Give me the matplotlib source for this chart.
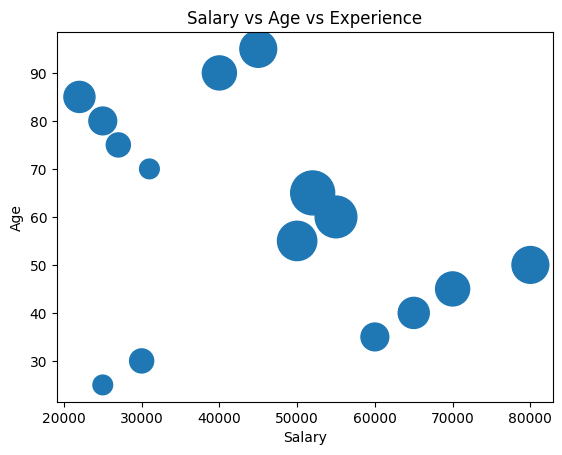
import matplotlib
matplotlib.use("Agg")
import matplotlib.pyplot as plt

# data
salary = [22000, 25000, 27000, 31000, 40000, 45000, 52000, 55000,
          50000, 80000, 70000, 65000, 60000, 30000, 25000]
age = [85, 80, 75, 70, 90, 95, 65, 60, 55, 50, 45, 40, 35, 30, 25]
experience = [5, 4, 3, 2, 6, 7, 10, 9, 8, 7, 6, 5, 4, 3, 2]

fig, ax = plt.subplots(figsize=(6.4, 4.8), dpi=100)
ax.scatter(salary, age, s=[e * 100 for e in experience])
ax.set_xlabel("Salary")
ax.set_ylabel("Age")
ax.set_title("Salary vs Age vs Experience")

fig.savefig("out.png", bbox_inches="tight")
